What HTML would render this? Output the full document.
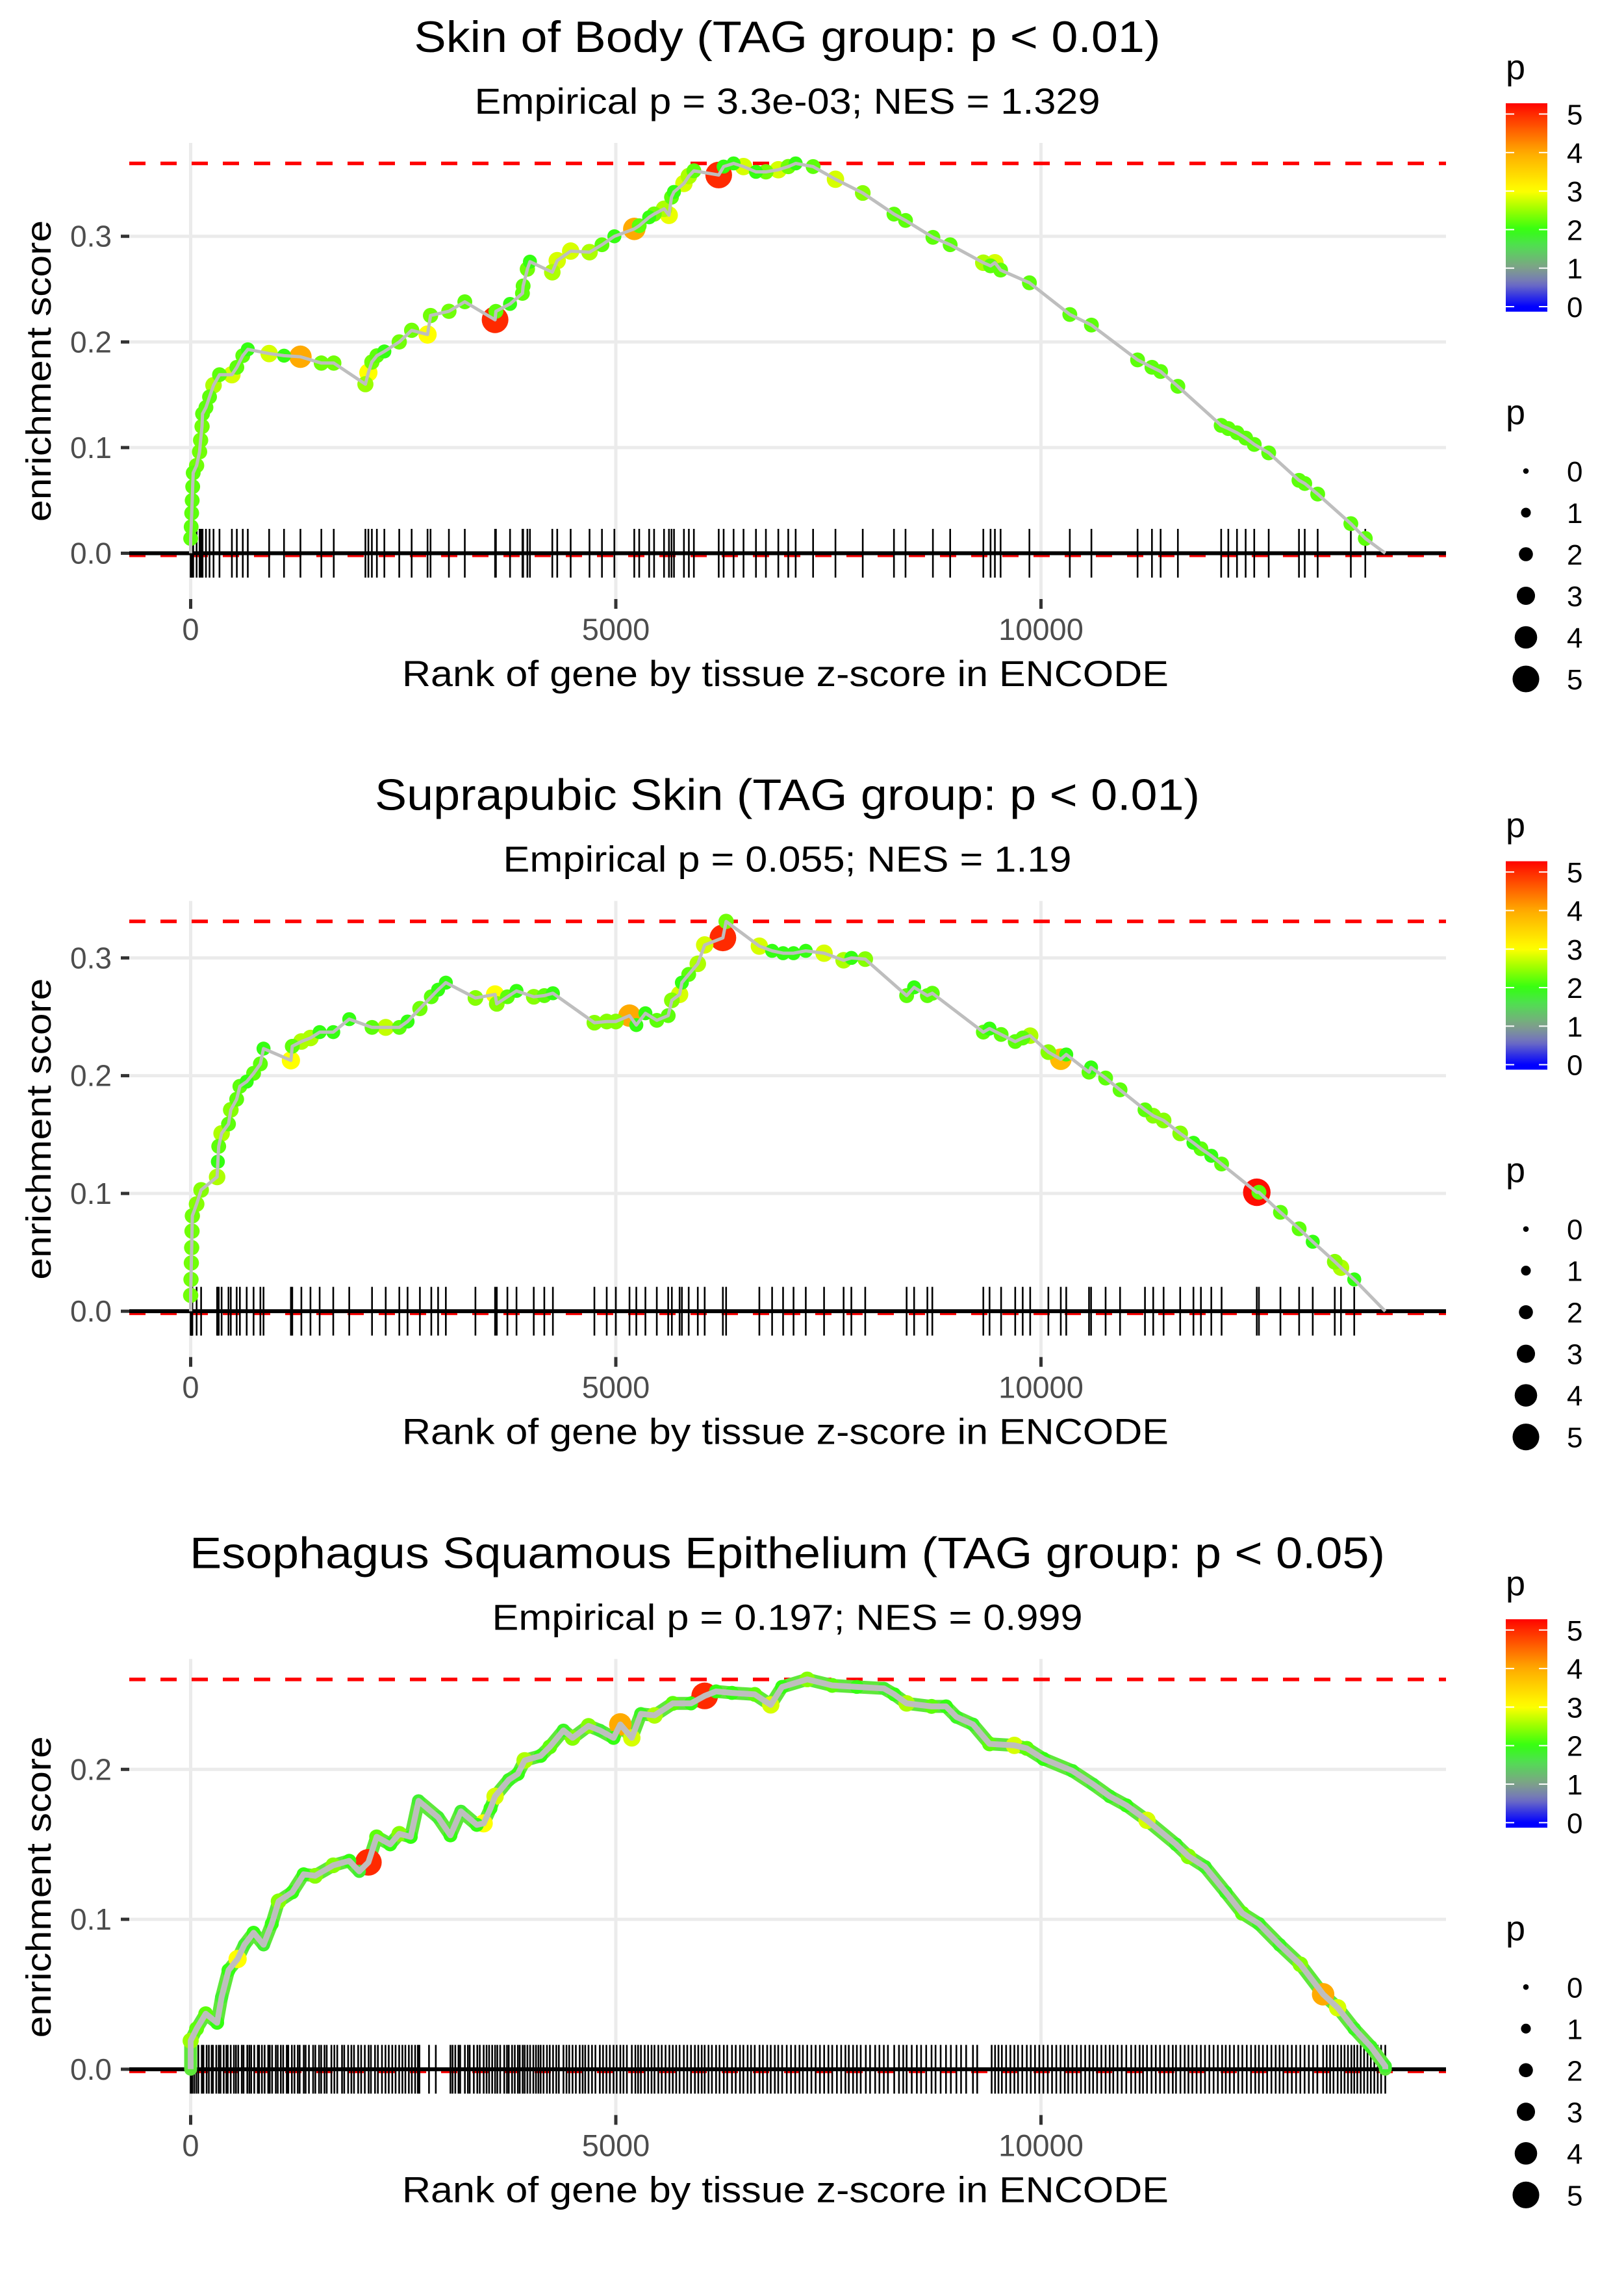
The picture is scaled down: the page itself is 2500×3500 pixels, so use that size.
<!DOCTYPE html>
<html><head><meta charset="utf-8">
<style>
html,body{margin:0;padding:0;background:#fff;}
svg{display:block;font-family:"Liberation Sans",Arial,sans-serif;}
</style></head>
<body>
<svg id="chart" xmlns="http://www.w3.org/2000/svg" width="2500" height="3500" viewBox="0 0 2500 3500">
<rect x="0" y="0" width="2500" height="3500" fill="#fff"/>
<g id="static"></g>
<g id="marks"></g>
</svg>
<script>
// ===== Panel 1: Skin of Body =====
const p1Ranks=[0,6,12,18,24,30,70,105,117,134,140,180,222,269,339,485,543,613,672,923,1098,1291,1537,1683,2055,2090,2131,2190,2278,2453,2599,2786,2821,3037,3224,3580,3590,3756,3902,3910,3960,3990,4253,4311,4469,4691,4837,4983,5217,5275,5392,5450,5567,5625,5655,5684,5801,5859,5918,6210,6268,6385,6502,6648,6765,6911,7028,7115,7320,7583,7904,8271,8407,8729,8932,9322,9407,9458,9525,9864,10339,10593,11136,11305,11407,11610,12119,12203,12305,12407,12508,12678,13034,13102,13254,13644,13814];
const p1ES=[.014,.025,.038,.050,.063,.076,.083,.096,.107,.120,.132,.138,.148,.159,.169,.169,.176,.187,.193,.189,.187,.186,.180,.180,.160,.171,.181,.187,.191,.200,.211,.207,.225,.229,.238,.221,.229,.236,.246,.253,.269,.276,.266,.277,.286,.285,.292,.300,.307,.310,.318,.321,.326,.320,.337,.342,.350,.357,.362,.358,.366,.369,.366,.361,.361,.363,.366,.369,.366,.354,.341,.321,.315,.299,.292,.275,.272,.275,.268,.256,.226,.216,.183,.176,.172,.158,.121,.118,.114,.109,.103,.095,.069,.066,.056,.028,.014];
const p1P=[2.2,2.2,2.2,2.2,2.2,2.2,2.3,2.3,2.3,2.3,2.2,2.2,2.2,2.6,2.2,2.8,2.2,2.2,2.0,2.8,2.0,4.0,2.3,2.3,2.5,3.0,2.3,2.2,2.0,2.3,2.3,3.0,2.3,2.3,2.2,5.0,2.2,2.0,2.2,2.2,2.3,2.0,2.6,2.8,2.8,2.6,2.2,2.0,4.0,2.2,2.0,2.3,2.6,2.9,2.2,2.0,2.8,2.6,2.2,5.0,2.0,2.0,2.8,2.0,2.3,2.8,2.3,2.0,2.2,2.8,2.4,2.2,2.2,2.2,2.2,2.6,2.2,2.8,2.2,2.2,2.2,2.2,2.2,2.2,2.2,2.2,2.2,2.2,2.2,2.2,2.2,2.2,2.2,2.2,2.2,2.2,2.2];
const p1Ticks=p1Ranks.slice();
const p1YTicks=[0,0.1,0.2,0.3];
const p1YLabels=["0.0","0.1","0.2","0.3"];

// ===== Panel 2: Suprapubic Skin =====
const p2Ranks=[0,4,8,12,16,20,70,123,311,320,330,364,445,472,541,579,659,740,820,857,1179,1195,1302,1409,1517,1677,1865,2133,2294,2454,2551,2696,2830,2910,3001,3349,3580,3600,3725,3832,4035,4159,4260,4748,4893,5000,5161,5241,5348,5482,5616,5659,5750,5777,5857,5964,6045,6259,6297,6688,6838,6967,7090,7234,7449,7679,7770,7933,8420,8508,8664,8722,9322,9395,9531,9697,9785,9873,10087,10233,10297,10565,10589,10760,10930,11223,11320,11442,11637,11793,11881,12003,12124,12538,12563,12816,13036,13196,13455,13528,13684];
const p2ES=[.0135,.027,.041,.054,.068,.081,.091,.103,.114,.127,.140,.151,.159,.171,.180,.191,.195,.202,.210,.223,.213,.225,.229,.232,.237,.237,.248,.241,.241,.241,.246,.257,.267,.273,.279,.266,.269,.261,.267,.272,.267,.268,.270,.245,.246,.246,.251,.243,.253,.247,.251,.264,.269,.279,.286,.295,.311,.317,.331,.310,.306,.304,.304,.306,.304,.298,.300,.299,.268,.275,.268,.270,.237,.240,.235,.229,.232,.234,.220,.214,.218,.203,.207,.198,.188,.171,.166,.162,.151,.143,.138,.132,.125,.101,.101,.084,.070,.059,.042,.037,.027];
const p2P=[2.3,2.3,2.3,2.3,2.3,2.3,2.4,2.4,2.6,2.0,2.2,2.6,2.2,2.4,2.2,2.2,2.0,2.2,2.2,2.0,3.0,2.2,2.6,2.6,2.0,2.0,2.0,2.2,2.7,2.2,2.0,2.3,2.2,2.0,2.0,2.4,3.0,2.4,2.2,2.0,2.4,2.2,2.0,2.4,2.4,2.4,4.0,2.0,2.0,2.2,2.2,2.4,2.8,2.0,2.2,2.6,2.8,5.0,2.3,2.8,2.0,2.0,2.0,2.0,2.8,2.6,2.0,2.4,2.2,2.0,2.2,2.2,2.2,2.0,2.2,2.2,2.2,2.6,2.4,3.8,2.0,2.2,2.0,2.2,2.2,2.2,2.4,2.4,2.4,2.0,2.2,2.0,2.2,5.2,2.2,2.2,2.2,2.0,2.4,2.6,2.0];
const p2Ticks=p2Ranks.slice();
const p2YTicks=[0,0.1,0.2,0.3];
const p2YLabels=["0.0","0.1","0.2","0.3"];

// ===== Panel 3: Esophagus Squamous Epithelium =====
const p3Ranks=[0,70,177,311,364,445,552,632,740,857,954,1034,1195,1329,1463,1677,1865,1983,2090,2187,2347,2454,2588,2680,2910,3055,3178,3365,3446,3526,3580,3741,3848,3928,4116,4223,4384,4491,4679,4812,4973,5053,5188,5295,5455,5670,5884,6045,6179,6366,6634,6822,6956,7251,7545,7835,8152,8274,8420,8713,8883,9005,9200,9395,9687,9833,10028,10370,10613,10808,11003,11247,11588,11734,11929,12173,12368,12563,12806,13050,13318,13489,13684,13879,14049];
const p3ES=[.019,.027,.037,.031,.048,.066,.0735,.083,.091,.083,.097,.112,.118,.130,.129,.136,.139,.132,.138,.155,.150,.157,.155,.179,.168,.156,.172,.163,.164,.174,.182,.193,.197,.206,.209,.215,.226,.221,.229,.226,.221,.230,.221,.237,.236,.244,.244,.249,.252,.251,.250,.243,.255,.260,.256,.255,.254,.250,.244,.242,.242,.235,.230,.217,.216,.214,.207,.199,.190,.182,.176,.166,.150,.142,.135,.118,.104,.097,.083,.070,.050,.041,.027,.015,.002];
const p3P=[2.5,2.2,2.2,2.0,1.8,2.0,3.0,1.8,2.0,1.8,2.0,2.4,2.0,2.0,2.4,2.4,2.0,1.8,5.0,2.2,2.0,2.4,2.0,1.8,1.8,2.0,1.8,2.0,3.0,2.0,2.8,1.9,2.0,2.6,2.0,2.2,1.9,2.4,2.4,1.8,2.0,4.0,2.8,1.9,2.6,2.2,2.0,5.0,2.0,2.0,2.2,2.8,2.0,2.4,2.2,2.0,1.8,2.0,2.6,2.2,2.0,1.9,1.9,2.2,2.8,2.2,2.0,1.9,1.8,1.9,2.0,2.8,1.9,2.4,1.9,1.9,2.2,1.9,1.9,2.4,4.0,2.8,1.9,1.9,1.8];
const p3Ticks=[0,18,41,66,90,131,150,188,214,247,262,301,330,351,389,420,436,471,509,533,560,601,622,666,690,712,748,790,805,838,870,912,930,958,1001,1024,1060,1088,1130,1148,1190,1221,1260,1282,1330,1352,1391,1440,1466,1510,1535,1574,1600,1655,1690,1724,1780,1806,1852,1890,1921,1970,2005,2048,2093,2120,2168,2202,2250,2291,2330,2371,2410,2452,2490,2525,2566,2601,2640,2672,2690,2803,2883,3055,3080,3112,3150,3170,3225,3260,3282,3330,3371,3400,3446,3480,3510,3546,3580,3606,3640,3688,3720,3741,3780,3812,3848,3870,3905,3928,3960,3992,4030,4061,4090,4116,4150,4190,4223,4262,4300,4330,4384,4420,4452,4491,4530,4575,4610,4640,4679,4720,4760,4812,4850,4890,4930,4973,5010,5053,5090,5130,5188,5230,5262,5295,5340,5380,5420,5455,5500,5540,5585,5630,5670,5710,5750,5800,5840,5884,5930,5970,6010,6045,6090,6130,6179,6220,6270,6310,6366,6410,6460,6500,6550,6590,6634,6690,6730,6780,6822,6870,6910,6956,7010,7060,7110,7160,7200,7251,7300,7350,7400,7450,7500,7545,7600,7650,7700,7740,7790,7835,7880,7940,7990,8050,8100,8152,8200,8274,8330,8380,8420,8480,8540,8590,8650,8713,8760,8820,8883,8940,9005,9060,9120,9200,9250,9420,9460,9500,9540,9590,9640,9687,9730,9780,9833,9880,9930,9980,10028,10080,10130,10180,10230,10280,10320,10370,10420,10470,10520,10570,10613,10660,10710,10760,10808,10850,10900,10950,11003,11060,11110,11160,11200,11247,11300,11350,11400,11450,11500,11550,11588,11640,11690,11734,11780,11830,11880,11929,11980,12030,12080,12130,12173,12220,12270,12320,12368,12420,12470,12520,12563,12610,12660,12710,12760,12806,12850,12900,12950,13000,13050,13100,13150,13200,13250,13318,13360,13400,13440,13489,13530,13570,13610,13650,13684,13720,13760,13800,13840,13879,13920,13960,14000,14049];
const p3YTicks=[0,0.1,0.2];
const p3YLabels=["0.0","0.1","0.2"];

const xTicks=[0,5000,10000];
const xTickLabels=["0","5000","10000"];
const geneCount=[14049,14049,14049];
const titles=["Skin of Body (TAG group: p < 0.01)","Suprapubic Skin (TAG group: p < 0.01)","Esophagus Squamous Epithelium (TAG group: p < 0.05)"];
const titleW=[1149,1270,1840];
const subtitles=["Empirical p = 3.3e-03; NES = 1.329","Empirical p = 0.055; NES = 1.19","Empirical p = 0.197; NES = 0.999"];
const subW=[963,875,909];
const legendTicks=[0,1,2,3,4,5];

const NS="http://www.w3.org/2000/svg";
const svg=document.getElementById('chart');
const marks=document.getElementById('marks');
function mk(tag,attrs,parent){const e=document.createElementNS(NS,tag);for(const k in attrs)e.setAttribute(k,attrs[k]);(parent||marks).appendChild(e);return e;}

const PL=199,PR=2226,PT=220,PB=922,ZERO=851.5;
function xScale(r){return 293.5+r*0.1309;}

const cStops=[[0,[0,0,255]],[0.6,[114,114,192]],[1.0,[127,160,138]],[1.6,[79,224,79]],[2.0,[51,255,17]],[2.5,[153,255,0]],[3.0,[255,255,0]],[4.0,[255,170,0]],[5.0,[255,42,0]],[5.3,[255,0,0]]];
function pColor(p){
  if(p<=cStops[0][0])return 'rgb('+cStops[0][1].join(',')+')';
  for(let i=1;i<cStops.length;i++){
    if(p<=cStops[i][0]){const a=cStops[i-1],b=cStops[i];const t=(p-a[0])/(b[0]-a[0]);
      return 'rgb('+[0,1,2].map(k=>Math.round(a[1][k]+t*(b[1][k]-a[1][k]))).join(',')+')';}
  }
  return 'rgb(255,0,0)';
}
function pRadius(p){return 4.3+3.25*p;}

const defs=mk('defs',{},svg);
const grad=mk('linearGradient',{id:'pgrad',x1:'0',y1:'1',x2:'0',y2:'0'},defs);
const gLo=-0.13,gHi=5.28;
for(let i=0;i<=40;i++){const p=gLo+(gHi-gLo)*i/40;mk('stop',{offset:(i/40).toFixed(3),'stop-color':pColor(p)},grad);}

const panels=[
 {ranks:p1Ranks,es:p1ES,p:p1P,ticks:p1Ticks,yt:p1YTicks,yl:p1YLabels,lw:5,halo:false},
 {ranks:p2Ranks,es:p2ES,p:p2P,ticks:p2Ticks,yt:p2YTicks,yl:p2YLabels,lw:5,halo:false},
 {ranks:p3Ranks,es:p3ES,p:p3P,ticks:p3Ticks,yt:p3YTicks,yl:p3YLabels,lw:9,halo:true}
];

panels.forEach((P,i)=>{
  const oy=i*3500/3;
  const maxES=Math.max(...P.es);
  const ys=600/maxES;
  const yScale=v=>oy+ZERO-v*ys;
  const g=mk('g',{});
  
  

  const t=mk('text',{x:1212,y:oy+80,'text-anchor':'middle','font-size':68,fill:'#000',textLength:titleW[i],lengthAdjust:'spacingAndGlyphs'},g);
  t.textContent=titles[i];
  
  
  const st=mk('text',{x:1212,y:oy+175,'text-anchor':'middle','font-size':56,fill:'#000',textLength:subW[i],lengthAdjust:'spacingAndGlyphs'},g);
  st.textContent=subtitles[i];
  
  

  P.yt.forEach((v,k)=>{
    const y=yScale(v);
    const gl=mk('line',{x1:PL,x2:PR,y1:y,y2:y,stroke:'#ebebeb','stroke-width':5},g);
    
    
    const tk=mk('line',{x1:186,x2:199,y1:y,y2:y,stroke:'#333','stroke-width':5},g);
    
    
    const tl=mk('text',{x:172,y:y+16,'text-anchor':'end','font-size':46,fill:'#4d4d4d'},g);
    tl.textContent=P.yl[k];
    
    
  });
  xTicks.forEach((v,k)=>{
    const x=xScale(v);
    const gl=mk('line',{x1:x,x2:x,y1:oy+PT,y2:oy+PB,stroke:'#ebebeb','stroke-width':5},g);
    
    
    const tk=mk('line',{x1:x,x2:x,y1:oy+PB,y2:oy+937,stroke:'#333','stroke-width':5},g);
    
    
    const tl=mk('text',{x:x,y:oy+985,'text-anchor':'middle','font-size':47,fill:'#4d4d4d'},g);
    tl.textContent=xTickLabels[k];
    
    
  });

  const xl=mk('text',{x:1209,y:oy+1056,'text-anchor':'middle','font-size':56,fill:'#000',textLength:1180,lengthAdjust:'spacingAndGlyphs'},g);
  xl.textContent='Rank of gene by tissue z-score in ENCODE';
  
  
  const yl=mk('text',{x:0,y:0,'text-anchor':'middle','font-size':54,fill:'#000',textLength:464,lengthAdjust:'spacingAndGlyphs',transform:'translate(78,'+(oy+571)+') rotate(-90)'},g);
  yl.textContent='enrichment score';
  
  

  const dl=mk('line',{x1:PL,x2:PR,y1:yScale(maxES),y2:yScale(maxES),stroke:'#ff0000','stroke-width':5.5,'stroke-dasharray':'25 23'},g);
  
  
  const zr=mk('line',{x1:PL,x2:PR,y1:yScale(0)+4,y2:yScale(0)+4,stroke:'#ff0000','stroke-width':4,'stroke-dasharray':'25 23'},g);
  
  

  const rug=mk('g',{},g);
  
  
  P.ticks.forEach(r=>{
    const x=xScale(r);
    const l=mk('line',{x1:x,x2:x,y1:yScale(0)-37.5,y2:yScale(0)+37.5,stroke:'#000','stroke-width':2.6},rug);
    
    
  });
  const zl=mk('line',{x1:PL,x2:PR,y1:yScale(0),y2:yScale(0),stroke:'#000','stroke-width':6},g);
  
  

  let pts=[[xScale(0),yScale(0)]];
  P.ranks.forEach((r,k)=>pts.push([xScale(r),yScale(P.es[k])]));
  pts.push([xScale(geneCount[i]),yScale(0)]);
  const d='M'+pts.map(q=>q[0].toFixed(1)+','+q[1].toFixed(1)).join(' L');
  if(P.halo){
    const h=mk('path',{d:d,fill:'none',stroke:'#5ee83a','stroke-width':20,'stroke-linejoin':'round','stroke-linecap':'round'},g);
    
    
  }
  const pg=mk('g',{},g);
  
  
  const order=P.ranks.map((r,k)=>k).sort((a,b)=>P.p[b]-P.p[a]);
  order.forEach(k=>{
    const c=mk('circle',{cx:xScale(P.ranks[k]),cy:yScale(P.es[k]),r:pRadius(P.p[k]),fill:pColor(P.p[k])},pg);
    
    
  });
  const ln=mk('path',{d:d,fill:'none',stroke:'#bebebe','stroke-width':P.lw,'stroke-linejoin':'round'},g);
  
  

  const lg=mk('g',{},g);
  
  
  const lt=mk('text',{x:2318,y:oy+122,'font-size':54,fill:'#000'},lg);
  lt.textContent='p';
  
  
  const cbTop=oy+472-gHi*59.3, cbBot=oy+472-gLo*59.3;
  const cb=mk('rect',{x:2318,y:cbTop,width:64,height:cbBot-cbTop,fill:'url(#pgrad)'},lg);
  
  
  legendTicks.forEach(v=>{
    const y=oy+472-v*59.3;
    const a=mk('line',{x1:2318,x2:2331,y1:y,y2:y,stroke:'#fff','stroke-width':2},lg);
    
    
    const b=mk('line',{x1:2369,x2:2382,y1:y,y2:y,stroke:'#fff','stroke-width':2},lg);
    
    
    const tx=mk('text',{x:2412,y:y+16,'font-size':44,fill:'#000'},lg);
    tx.textContent=String(v);
    
    
  });
  const sg=mk('g',{},g);
  
  
  const s0=mk('text',{x:2318,y:oy+653,'font-size':54,fill:'#000'},sg);
  s0.textContent='p';
  
  
  legendTicks.forEach((v,k)=>{
    const y=oy+725+k*64;
    const c=mk('circle',{cx:2349,cy:y,r:pRadius(v),fill:'#000'},sg);
    
    
    const tx=mk('text',{x:2412,y:y+16,'font-size':44,fill:'#000'},sg);
    tx.textContent=String(v);
    
    
  });
});
</script>
</body></html>
